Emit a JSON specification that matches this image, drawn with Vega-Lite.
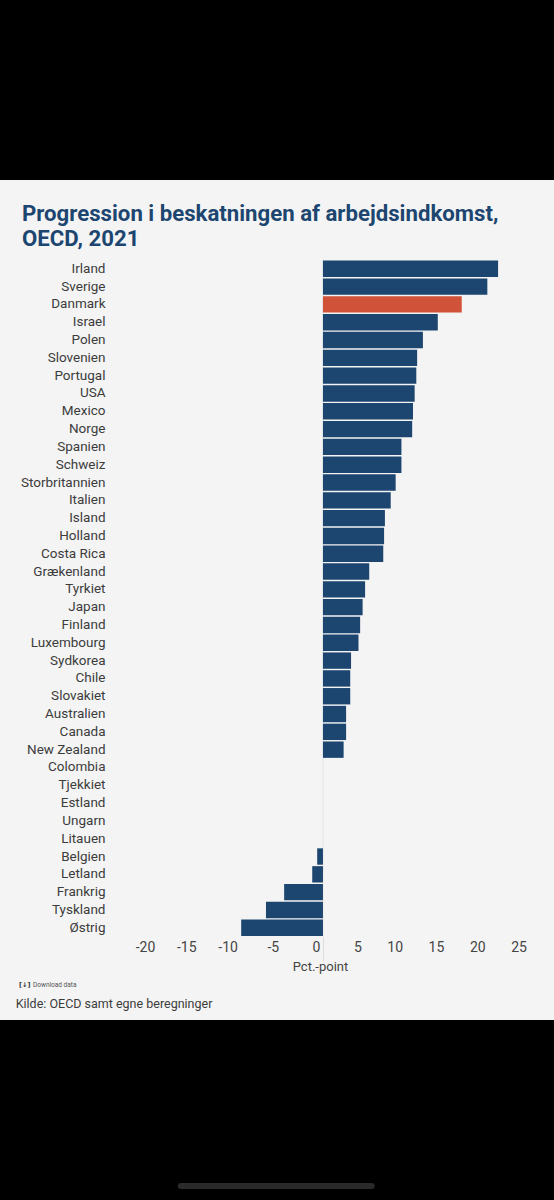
{
  "$schema": "https://vega.github.io/schema/vega-lite/v6.json",
  "description": "Progression i beskatningen af arbejdsindkomst, OECD, 2021",
  "background": "#000000",
  "autosize": "none",
  "padding": {"top": 180, "left": 0, "right": 0, "bottom": 180},
  "width": 554,
  "height": 840,
  "view": {"fill": "#f4f4f4", "stroke": null},
  "title": {
    "text": ["Progression i beskatningen af arbejdsindkomst,", "OECD, 2021"],
    "frame": "group",
    "anchor": "start",
    "dx": 22,
    "offset": -70,
    "font": "Roboto",
    "fontSize": 22.2,
    "fontWeight": "bold",
    "lineHeight": 25,
    "color": "#1c4670"
  },
  "data": {
    "values": [
      {"land": "Irland", "pct": 21.2, "gruppe": "OECD"},
      {"land": "Sverige", "pct": 19.9, "gruppe": "OECD"},
      {"land": "Danmark", "pct": 16.8, "gruppe": "Danmark"},
      {"land": "Israel", "pct": 13.9, "gruppe": "OECD"},
      {"land": "Polen", "pct": 12.1, "gruppe": "OECD"},
      {"land": "Slovenien", "pct": 11.4, "gruppe": "OECD"},
      {"land": "Portugal", "pct": 11.3, "gruppe": "OECD"},
      {"land": "USA", "pct": 11.1, "gruppe": "OECD"},
      {"land": "Mexico", "pct": 10.9, "gruppe": "OECD"},
      {"land": "Norge", "pct": 10.8, "gruppe": "OECD"},
      {"land": "Spanien", "pct": 9.5, "gruppe": "OECD"},
      {"land": "Schweiz", "pct": 9.5, "gruppe": "OECD"},
      {"land": "Storbritannien", "pct": 8.8, "gruppe": "OECD"},
      {"land": "Italien", "pct": 8.2, "gruppe": "OECD"},
      {"land": "Island", "pct": 7.5, "gruppe": "OECD"},
      {"land": "Holland", "pct": 7.4, "gruppe": "OECD"},
      {"land": "Costa Rica", "pct": 7.3, "gruppe": "OECD"},
      {"land": "Grækenland", "pct": 5.6, "gruppe": "OECD"},
      {"land": "Tyrkiet", "pct": 5.1, "gruppe": "OECD"},
      {"land": "Japan", "pct": 4.8, "gruppe": "OECD"},
      {"land": "Finland", "pct": 4.5, "gruppe": "OECD"},
      {"land": "Luxembourg", "pct": 4.3, "gruppe": "OECD"},
      {"land": "Sydkorea", "pct": 3.4, "gruppe": "OECD"},
      {"land": "Chile", "pct": 3.3, "gruppe": "OECD"},
      {"land": "Slovakiet", "pct": 3.3, "gruppe": "OECD"},
      {"land": "Australien", "pct": 2.8, "gruppe": "OECD"},
      {"land": "Canada", "pct": 2.8, "gruppe": "OECD"},
      {"land": "New Zealand", "pct": 2.5, "gruppe": "OECD"},
      {"land": "Colombia", "pct": 0, "gruppe": "OECD"},
      {"land": "Tjekkiet", "pct": 0, "gruppe": "OECD"},
      {"land": "Estland", "pct": 0, "gruppe": "OECD"},
      {"land": "Ungarn", "pct": 0, "gruppe": "OECD"},
      {"land": "Litauen", "pct": 0, "gruppe": "OECD"},
      {"land": "Belgien", "pct": -0.7, "gruppe": "OECD"},
      {"land": "Letland", "pct": -1.3, "gruppe": "OECD"},
      {"land": "Frankrig", "pct": -4.7, "gruppe": "OECD"},
      {"land": "Tyskland", "pct": -6.9, "gruppe": "OECD"},
      {"land": "Østrig", "pct": -9.9, "gruppe": "OECD"}
    ]
  },
  "encoding": {
    "y": {
      "field": "land",
      "type": "nominal",
      "title": null,
      "scale": {
        "domain": ["Irland", "Sverige", "Danmark", "Israel", "Polen", "Slovenien", "Portugal", "USA", "Mexico", "Norge", "Spanien", "Schweiz", "Storbritannien", "Italien", "Island", "Holland", "Costa Rica", "Grækenland", "Tyrkiet", "Japan", "Finland", "Luxembourg", "Sydkorea", "Chile", "Slovakiet", "Australien", "Canada", "New Zealand", "Colombia", "Tjekkiet", "Estland", "Ungarn", "Litauen", "Belgien", "Letland", "Frankrig", "Tyskland", "Østrig", "r38", "r39", "download", "kilde", "r42", "r43", "r44", "r45", "r46", "r47", "r48", "r49", "r50", "r51", "r52"],
        "range": [80.6, 1023.1],
        "paddingInner": 0.08,
        "paddingOuter": 0
      },
      "axis": {
        "values": ["Irland", "Sverige", "Danmark", "Israel", "Polen", "Slovenien", "Portugal", "USA", "Mexico", "Norge", "Spanien", "Schweiz", "Storbritannien", "Italien", "Island", "Holland", "Costa Rica", "Grækenland", "Tyrkiet", "Japan", "Finland", "Luxembourg", "Sydkorea", "Chile", "Slovakiet", "Australien", "Canada", "New Zealand", "Colombia", "Tjekkiet", "Estland", "Ungarn", "Litauen", "Belgien", "Letland", "Frankrig", "Tyskland", "Østrig"],
        "orient": "left",
        "offset": -108,
        "labelPadding": 3,
        "ticks": false,
        "domain": false,
        "grid": false,
        "labelFont": "Roboto",
        "labelFontSize": 13.5,
        "labelFontWeight": "normal",
        "labelColor": "#3c3c3c"
      }
    },
    "x": {
      "field": "pct",
      "type": "quantitative",
      "title": "Pct.-point",
      "scale": {"domain": [-39.1, 27.97], "nice": false, "zero": false},
      "axis": {
        "values": [-20, -15, -10, -5, 0, 5, 10, 15, 20, 25],
        "labelExpr": "datum.value + ''",
        "orient": "bottom",
        "offset": -83,
        "grid": false,
        "domain": false,
        "tickSize": 24,
        "tickColor": {"condition": {"test": "datum.value === 0", "value": "#dddddd"}, "value": "transparent"},
        "labelPadding": -21,
        "labelAlign": "right",
        "labelOffset": -3,
        "labelFont": "Roboto",
        "labelFontSize": 14,
        "labelColor": "#444444",
        "titleFont": "Roboto",
        "titleFontSize": 13,
        "titleFontWeight": "normal",
        "titleColor": "#444444",
        "titleX": 320,
        "titleY": 23,
        "titleAlign": "center"
      }
    }
  },
  "layer": [
    {
      "mark": {"type": "tick", "size": 18, "thickness": 1, "color": "#dddddd"},
      "encoding": {"x": {"datum": 0}}
    },
    {
      "mark": {"type": "bar"},
      "encoding": {
        "color": {
          "field": "gruppe",
          "type": "nominal",
          "scale": {"domain": ["OECD", "Danmark"], "range": ["#1c4670", "#cf5239"]},
          "legend": null
        }
      }
    },
    {
      "data": {"values": [{"tekst": "Download data", "x": -35.1, "y": "download"}]},
      "mark": {"type": "text", "align": "left", "baseline": "middle", "font": "Roboto", "fontSize": 6.5, "color": "#555555", "dy": 4},
      "encoding": {
        "text": {"field": "tekst"},
        "x": {"field": "x", "type": "quantitative"},
        "y": {"field": "y", "type": "nominal"}
      }
    },
    {
      "data": {"values": [{"tekst": "[↓]", "x": -36.1, "y": "download"}]},
      "mark": {"type": "text", "align": "center", "baseline": "middle", "font": "DejaVu Sans", "fontSize": 6.5, "fontWeight": "bold", "color": "#333333", "dy": 4},
      "encoding": {
        "text": {"field": "tekst"},
        "x": {"field": "x", "type": "quantitative"},
        "y": {"field": "y", "type": "nominal"}
      }
    },
    {
      "data": {"values": [{"tekst": "Kilde: OECD samt egne beregninger", "x": -37.2, "y": "kilde"}]},
      "mark": {"type": "text", "align": "left", "baseline": "middle", "font": "Roboto", "fontSize": 12.5, "color": "#3c3c3c", "dy": 5},
      "encoding": {
        "text": {"field": "tekst"},
        "x": {"field": "x", "type": "quantitative"},
        "y": {"field": "y", "type": "nominal"}
      }
    },
    {
      "data": {"values": [{"x": -17.2, "x2": 5.9, "y": "r51"}]},
      "mark": {"type": "rule", "strokeWidth": 6, "strokeCap": "round", "color": "#2a2a2a", "yOffset": 9},
      "encoding": {
        "x": {"field": "x", "type": "quantitative"},
        "x2": {"field": "x2"},
        "y": {"field": "y", "type": "nominal"}
      }
    }
  ]
}
